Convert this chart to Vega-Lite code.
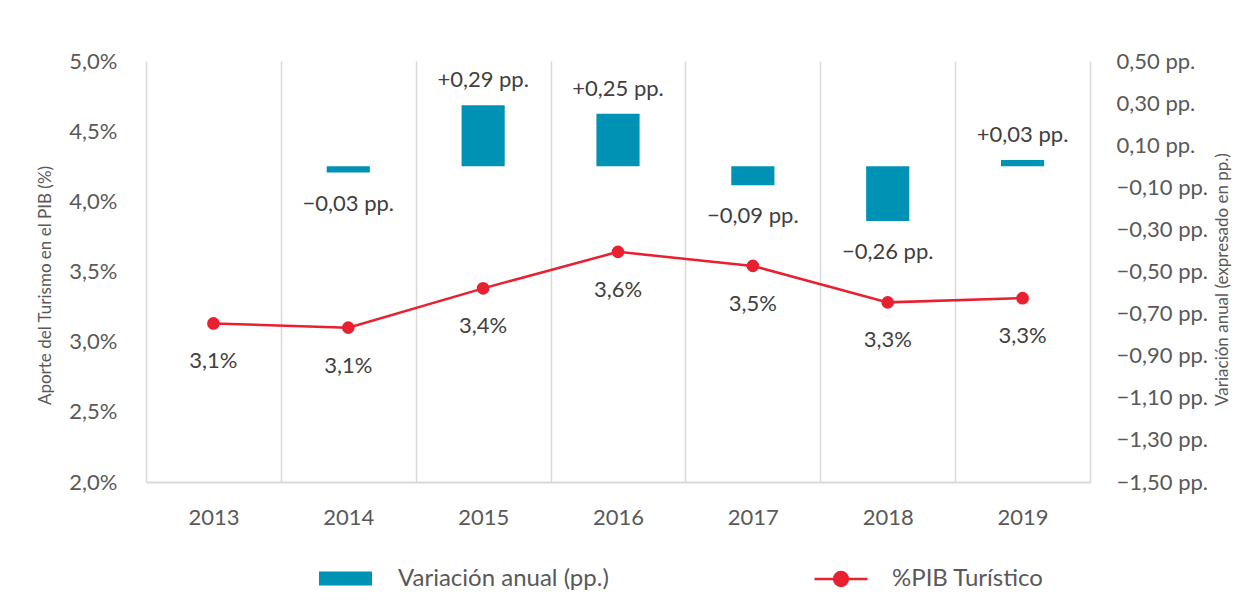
{
  "$schema": "https://vega.github.io/schema/vega-lite/v6.json",
  "width": 944,
  "height": 421,
  "autosize": "none",
  "padding": {"left": 146, "top": 61, "right": 161, "bottom": 132},
  "background": "white",
  "config": {
    "locale": {"number": {"decimal": ",", "thousands": ".", "grouping": [3], "currency": ["", ""]}},
    "view": {"stroke": null},
    "font": "Lato",
    "axis": {"labelFont": "Lato", "titleFont": "Lato", "labelColor": "#595959", "titleColor": "#595959", "titleFontWeight": "normal"},
    "legend": {"labelFont": "Lato"}
  },
  "data": {
    "values": [
      {"anio": "2013", "pib": 3.13, "variacion": null},
      {"anio": "2014", "pib": 3.10, "variacion": -0.03},
      {"anio": "2015", "pib": 3.38, "variacion": 0.29},
      {"anio": "2016", "pib": 3.64, "variacion": 0.25},
      {"anio": "2017", "pib": 3.54, "variacion": -0.09},
      {"anio": "2018", "pib": 3.28, "variacion": -0.26},
      {"anio": "2019", "pib": 3.31, "variacion": 0.03}
    ]
  },
  "encoding": {
    "x": {
      "field": "anio",
      "type": "ordinal",
      "scale": {"paddingInner": 0, "paddingOuter": 0},
      "axis": {
        "title": null,
        "labelAngle": 0,
        "labelFontSize": 22,
        "labelPadding": 25,
        "ticks": false,
        "grid": true,
        "tickBand": "extent",
        "gridColor": "#d9d9d9",
        "gridWidth": 1.5,
        "domainColor": "#d9d9d9",
        "domainWidth": 2
      }
    }
  },
  "layer": [
    {
      "encoding": {
        "y": {
          "field": "variacion",
          "type": "quantitative",
          "scale": {"domain": [-1.5, 0.5], "nice": false},
          "axis": {
            "orient": "right",
            "title": "Variación anual (expresado en pp.)",
            "titleAngle": 270,
            "titleFontSize": 17,
            "titleX": 132,
            "titleY": 218,
            "titleBaseline": "middle",
            "titleAlign": "center",
            "values": [-1.5, -1.3, -1.1, -0.9, -0.7, -0.5, -0.3, -0.1, 0.1, 0.3, 0.5],
            "labelExpr": "format(datum.value, '.2f') + ' pp.'",
            "labelFontSize": 22,
            "labelPadding": 26,
            "labelAlign": "left",
            "ticks": false,
            "domain": false,
            "grid": false
          }
        }
      },
      "layer": [
        {
          "mark": {"type": "bar", "width": {"band": 0.32}},
          "encoding": {
            "color": {
              "datum": "Variación anual (pp.)",
              "type": "nominal",
              "scale": {"range": ["#0092b4"]},
              "legend": {
                "orient": "none",
                "legendX": 172,
                "legendY": 490,
                "title": null,
                "symbolType": "M-1,-0.26 L1,-0.26 L1,0.26 L-1,0.26 Z",
                "symbolSize": 2809,
                "labelFontSize": 24,
                "labelColor": "#595959",
                "labelOffset": 25,
                "labelLimit": 500
              }
            }
          }
        },
        {
          "transform": [{"filter": "datum.variacion > 0"}],
          "mark": {"type": "text", "fontSize": 22, "color": "#404040", "baseline": "middle", "dy": -25, "text": {"expr": "format(datum.variacion, '+.2f') + ' pp.'"}}
        },
        {
          "transform": [{"filter": "datum.variacion < 0"}],
          "mark": {"type": "text", "fontSize": 22, "color": "#404040", "baseline": "middle", "dy": 31, "text": {"expr": "format(datum.variacion, '.2f') + ' pp.'"}}
        }
      ]
    },
    {
      "encoding": {
        "y": {
          "field": "pib",
          "type": "quantitative",
          "scale": {"domain": [2, 5], "nice": false, "zero": false},
          "axis": {
            "orient": "left",
            "title": "Aporte del Turismo en el PIB (%)",
            "titleFontSize": 17,
            "titleX": -101,
            "titleY": 224,
            "titleAngle": 270,
            "titleBaseline": "middle",
            "titleAlign": "center",
            "values": [2, 2.5, 3, 3.5, 4, 4.5, 5],
            "labelExpr": "format(datum.value, '.1f') + '%'",
            "labelFontSize": 22,
            "labelPadding": 29,
            "ticks": false,
            "domain": false,
            "grid": false
          }
        }
      },
      "layer": [
        {
          "mark": {"type": "line", "strokeWidth": 2.5},
          "encoding": {
            "stroke": {
              "datum": "%PIB Turístico",
              "type": "nominal",
              "scale": {"range": ["#e8202f"]},
              "legend": {
                "orient": "none",
                "legendX": 667,
                "legendY": 490,
                "title": null,
                "symbolType": "M-1,0 L1,0 M-0.26,0 A0.26,0.26 0 1,1 0.26,0 A0.26,0.26 0 1,1 -0.26,0 Z",
                "symbolSize": 2809,
                "symbolFillColor": "#e8202f",
                "symbolStrokeWidth": 2.5,
                "labelFontSize": 24,
                "labelColor": "#595959",
                "labelOffset": 23,
                "labelLimit": 500
              }
            }
          }
        },
        {
          "mark": {"type": "point", "filled": true, "size": 160, "opacity": 1, "color": "#e8202f"}
        },
        {
          "mark": {"type": "text", "fontSize": 22, "color": "#404040", "baseline": "middle", "dy": 38, "text": {"expr": "format(datum.pib, '.1f') + '%'"}}
        }
      ]
    }
  ],
  "resolve": {"scale": {"y": "independent"}}
}
